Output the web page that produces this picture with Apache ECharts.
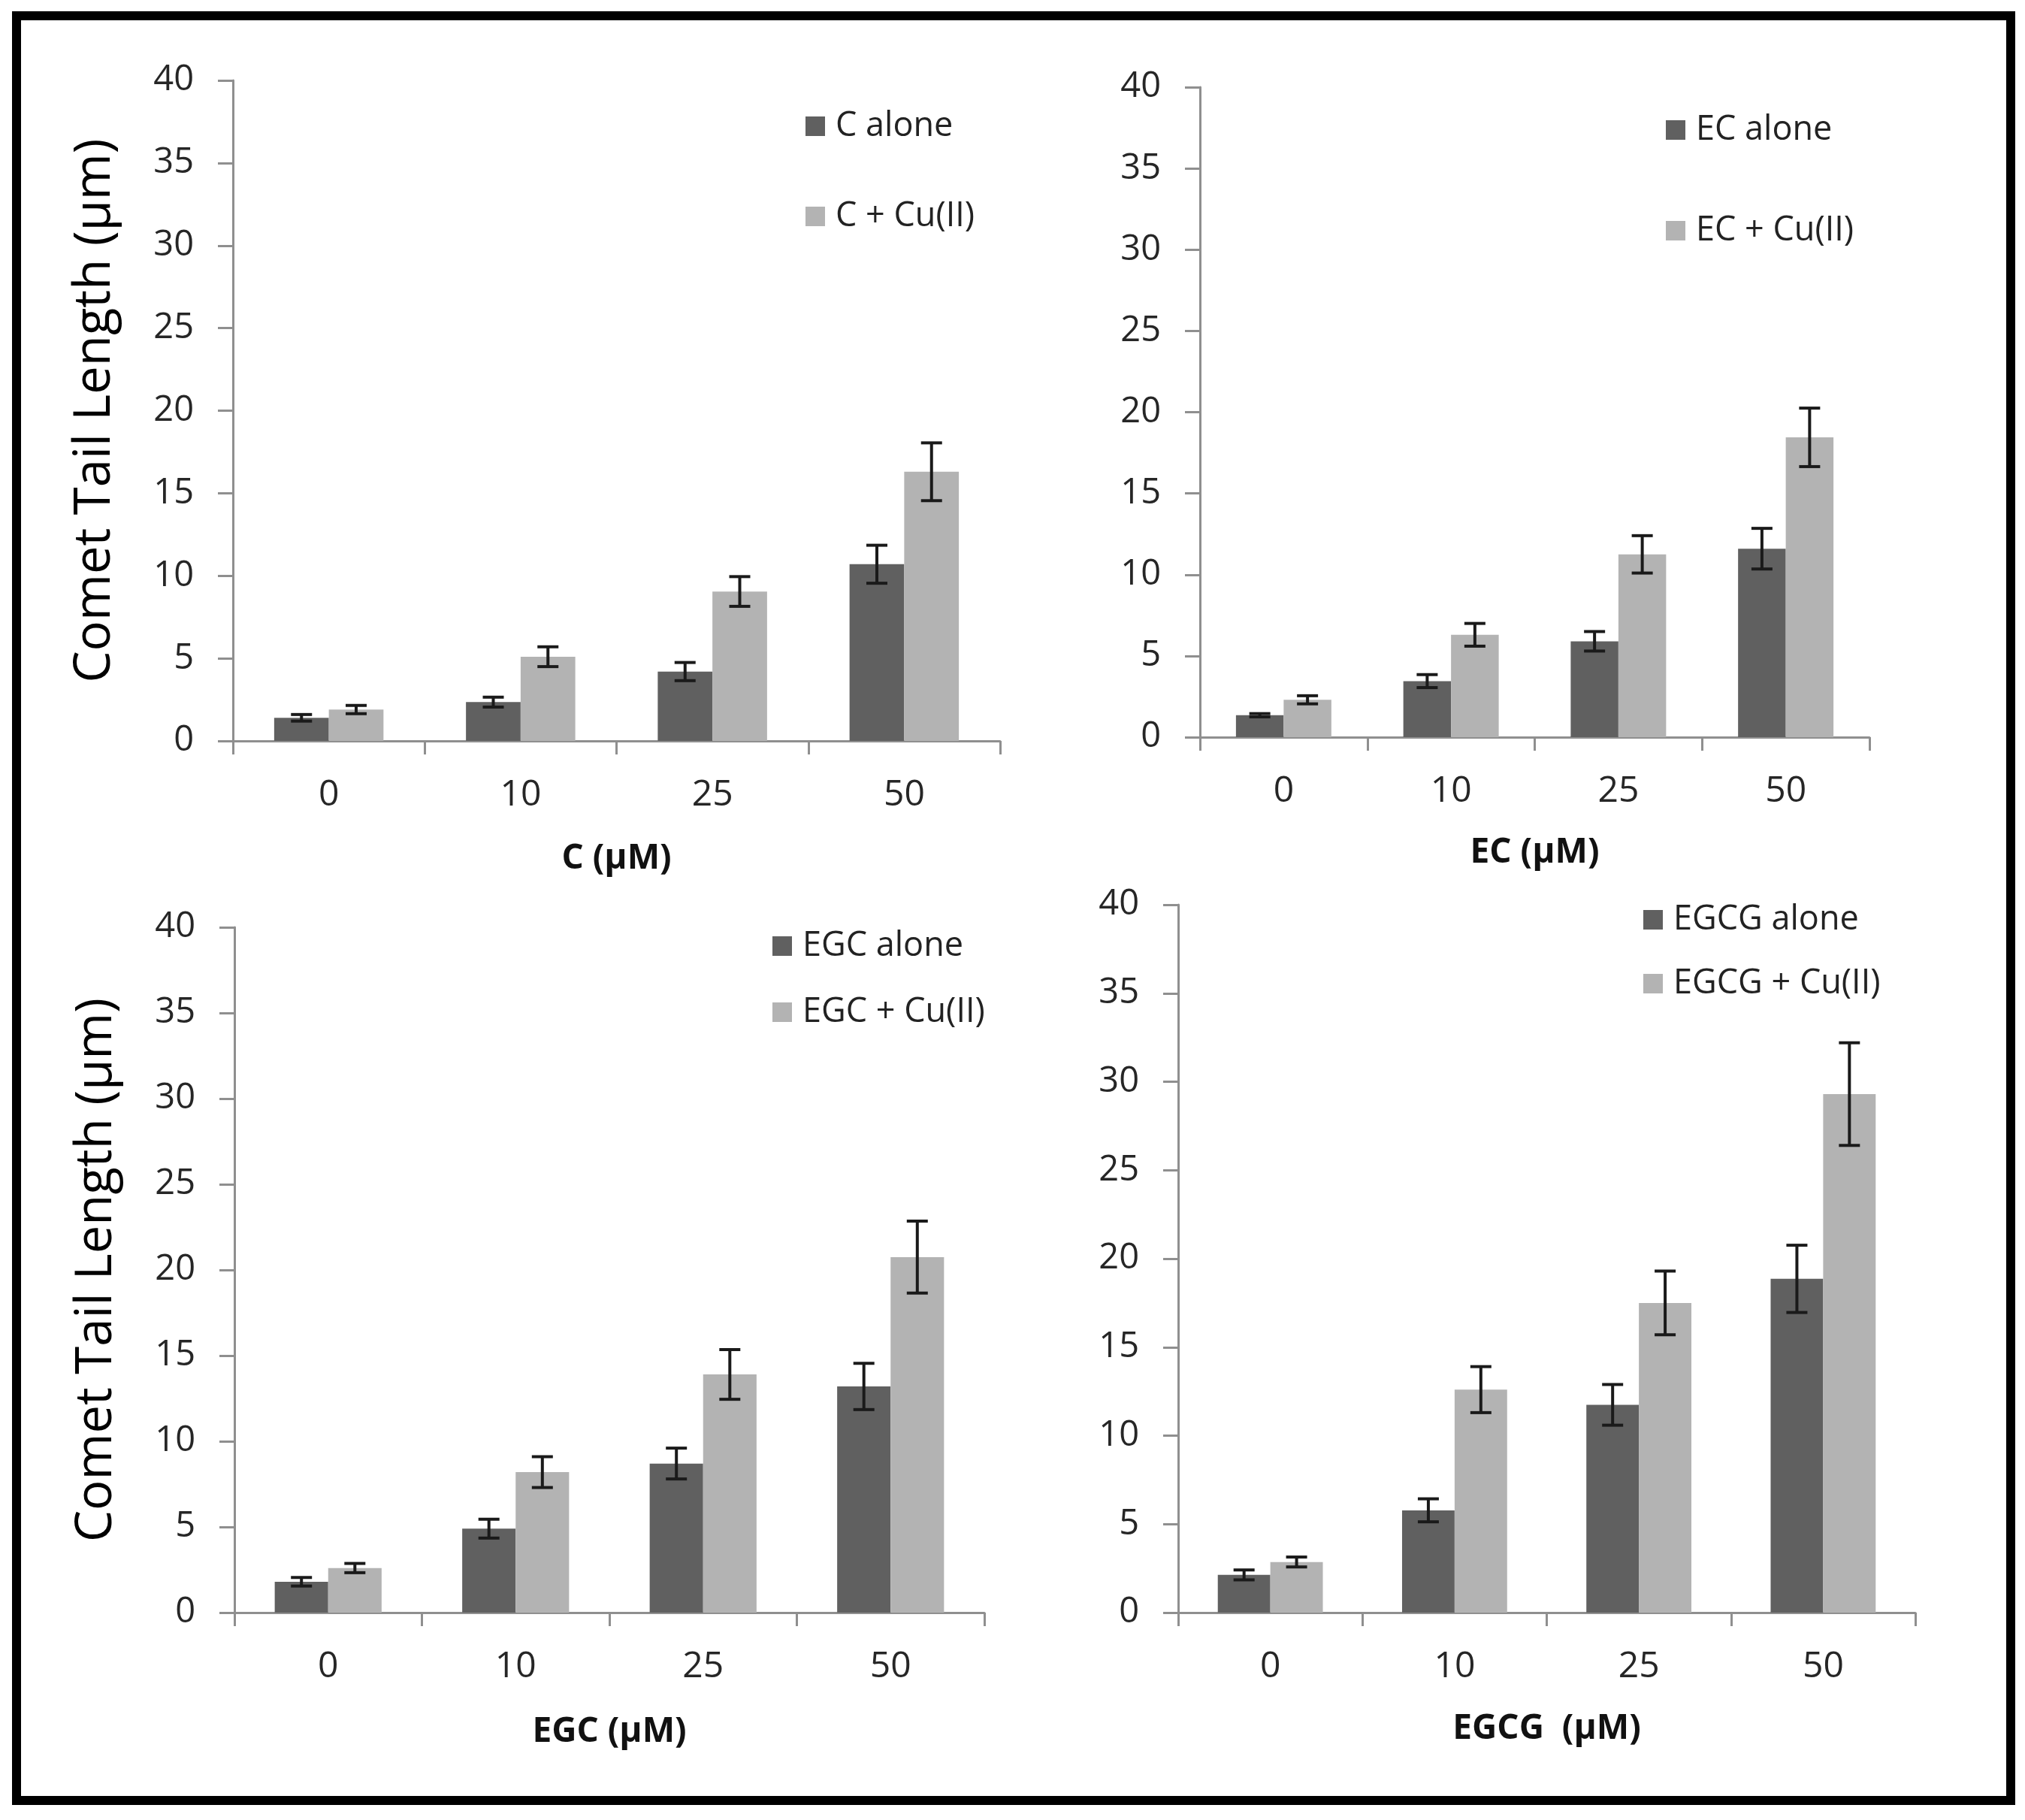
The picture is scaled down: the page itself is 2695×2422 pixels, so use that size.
<!DOCTYPE html>
<html>
<head>
<meta charset="utf-8">
<title>Comet tail length</title>
<script src="https://cdn.jsdelivr.net/npm/echarts@6/dist/echarts.min.js"></script>
<style>
  html, body { margin: 0; padding: 0; background: #fff; }
  #chart { width: 2695px; height: 2422px; }
</style>
</head>
<body>
<div id="chart"></div>
<script>
// x categories (concentration, uM)
var categories = ['0', '10', '25', '50'];
var yTicks = { min: 0, max: 40, interval: 5 };

// catechin
var cAlone = [1.4, 2.35, 4.2, 10.7];
var cAloneErr = [0.2, 0.3, 0.55, 1.15];
var cCu = [1.9, 5.1, 9.05, 16.3];
var cCuErr = [0.25, 0.6, 0.9, 1.75];

// epicatechin
var ecAlone = [1.35, 3.45, 5.9, 11.6];
var ecAloneErr = [0.1, 0.4, 0.6, 1.25];
var ecCu = [2.3, 6.3, 11.25, 18.45];
var ecCuErr = [0.25, 0.7, 1.15, 1.8];

// epigallocatechin
var egcAlone = [1.8, 4.9, 8.7, 13.2];
var egcAloneErr = [0.25, 0.55, 0.9, 1.35];
var egcCu = [2.6, 8.2, 13.9, 20.75];
var egcCuErr = [0.27, 0.9, 1.45, 2.1];

// epigallocatechin gallate
var egcgAlone = [2.13, 5.78, 11.74, 18.86];
var egcgAloneErr = [0.28, 0.65, 1.15, 1.9];
var egcgCu = [2.86, 12.6, 17.5, 29.3];
var egcgCuErr = [0.28, 1.3, 1.8, 2.9];

var FONT = 'Open Sans';
var DARK = '#606060';
var LIGHT = '#b3b3b3';
var GAP = 0.43;

// one panel per compound
var panels = [
    { name: 'C', alone: cAlone, aloneErr: cAloneErr, cu: cCu, cuErr: cCuErr,
      xName: 'C (μM)', yName: 'Comet Tail Length (μm)',
      grid: { left: 310, top: 107, width: 1021, height: 879 },
      xGap: 134, legend: { left: 1067, top: 137, gap: 68 } },
    { name: 'EC', alone: ecAlone, aloneErr: ecAloneErr, cu: ecCu, cuErr: ecCuErr,
      xName: 'EC (μM)', yName: '',
      grid: { left: 1597, top: 116, width: 891, height: 865 },
      xGap: 131, legend: { left: 2212, top: 142, gap: 82 } },
    { name: 'EGC', alone: egcAlone, aloneErr: egcAloneErr, cu: egcCu, cuErr: egcCuErr,
      xName: 'EGC (μM)', yName: 'Comet Tail Length (μm)',
      grid: { left: 312, top: 1234, width: 998, height: 912 },
      xGap: 136, legend: { left: 1023, top: 1228, gap: 36 } },
    { name: 'EGCG', alone: egcgAlone, aloneErr: egcgAloneErr, cu: egcgCu, cuErr: egcgCuErr,
      xName: 'EGCG  (μM)', yName: '',
      grid: { left: 1568, top: 1204, width: 981, height: 942 },
      xGap: 132, legend: { left: 2182, top: 1193, gap: 33 } }
];

function errorBars(side) {
    return function (params, api) {
        var xi = api.value(0), v = api.value(1), e = api.value(2);
        var catW = api.size([1, 0])[0];
        var barW = catW * (1 - GAP) / 2;
        var cx = api.coord([xi, v])[0] + side * barW / 2;
        var hi = api.coord([xi, v + e])[1];
        var lo = api.coord([xi, v - e])[1];
        var cap = 14;
        var st = { stroke: '#1a1a1a', lineWidth: 4 };
        return {
            type: 'group',
            children: [
                { type: 'line', shape: { x1: cx, y1: hi, x2: cx, y2: lo }, style: st },
                { type: 'line', shape: { x1: cx - cap, y1: hi, x2: cx + cap, y2: hi }, style: st },
                { type: 'line', shape: { x1: cx - cap, y1: lo, x2: cx + cap, y2: lo }, style: st }
            ]
        };
    };
}

var grids = [], xAxes = [], yAxes = [], series = [], legends = [];
var axisLineStyle = { color: '#8f8f8f', width: 3 };

panels.forEach(function (p, k) {
    grids.push(p.grid);
    xAxes.push({
        gridIndex: k,
        type: 'category',
        data: categories,
        name: p.xName,
        nameLocation: 'middle',
        nameGap: p.xGap,
        nameTextStyle: { fontFamily: FONT, fontSize: 46, fontWeight: 'bold', color: '#111' },
        axisLine: { lineStyle: axisLineStyle },
        axisTick: { show: true, length: 18, lineStyle: axisLineStyle },
        axisLabel: { fontFamily: FONT, fontSize: 48, color: '#262626', margin: 48 }
    });
    yAxes.push({
        gridIndex: k,
        type: 'value',
        min: yTicks.min,
        max: yTicks.max,
        interval: yTicks.interval,
        name: p.yName,
        nameLocation: 'middle',
        nameGap: 150,
        nameRotate: 90,
        nameTextStyle: { fontFamily: FONT, fontSize: 67, color: '#000' },
        axisLine: { show: true, lineStyle: axisLineStyle },
        axisTick: { show: true, length: 20, lineStyle: axisLineStyle },
        axisLabel: { fontFamily: FONT, fontSize: 47, color: '#262626', margin: 52 },
        splitLine: { show: false }
    });

    var aloneName = p.name + ' alone';
    var cuName = p.name + ' + Cu(II)';
    series.push({
        name: aloneName, type: 'bar', xAxisIndex: k, yAxisIndex: k,
        data: p.alone, barGap: '0%', barCategoryGap: (GAP * 100) + '%',
        itemStyle: { color: DARK }, silent: true
    });
    series.push({
        name: cuName, type: 'bar', xAxisIndex: k, yAxisIndex: k,
        data: p.cu, barGap: '0%', barCategoryGap: (GAP * 100) + '%',
        itemStyle: { color: LIGHT }, silent: true
    });
    series.push({
        type: 'custom', xAxisIndex: k, yAxisIndex: k, z: 5, silent: true,
        renderItem: errorBars(-1),
        encode: { x: 0, y: 1 },
        data: p.alone.map(function (v, i) { return [i, v, p.aloneErr[i]]; })
    });
    series.push({
        type: 'custom', xAxisIndex: k, yAxisIndex: k, z: 5, silent: true,
        renderItem: errorBars(1),
        encode: { x: 0, y: 1 },
        data: p.cu.map(function (v, i) { return [i, v, p.cuErr[i]]; })
    });

    legends.push({
        data: [aloneName, cuName],
        orient: 'vertical',
        left: p.legend.left,
        top: p.legend.top,
        itemGap: p.legend.gap,
        itemWidth: 26,
        itemHeight: 26,
        icon: 'rect',
        selectedMode: false,
        textStyle: { fontFamily: FONT, fontSize: 45, color: '#222', lineHeight: 52, padding: [0, 0, 0, 9] }
    });
});

var myChart = echarts.init(document.getElementById('chart'));
var option = {
    backgroundColor: '#ffffff',
    animation: false,
    grid: grids,
    xAxis: xAxes,
    yAxis: yAxes,
    legend: legends,
    series: series,
    graphic: [{
        type: 'rect',
        shape: { x: 22, y: 21, width: 2654, height: 2375 },
        style: { fill: 'none', stroke: '#000', lineWidth: 12 },
        z: 100
    }]
};
myChart.setOption(option);
</script>
</body>
</html>
